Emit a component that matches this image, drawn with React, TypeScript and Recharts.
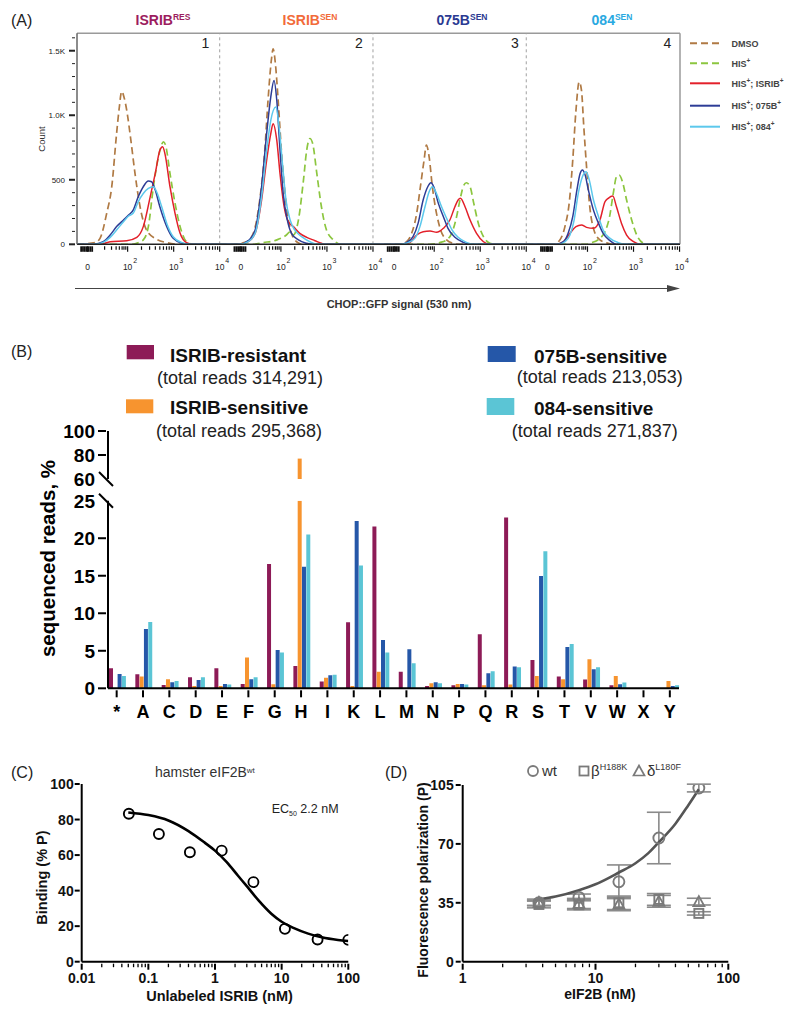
import React from 'react';
import {
  LineChart, Line, XAxis, YAxis, ReferenceLine,
  BarChart, Bar, ComposedChart, Scatter, ErrorBar,
} from 'recharts';

const FONT = '"Liberation Sans", Arial, Helvetica, sans-serif';

// ================= Panel A data (local x in display decades, y = count) =================
type Pt = [number, number];
const a1Dmso: Pt[] = [[0.9,0],[1.29,13],[1.40,46],[1.545,240],[1.655,446],[1.76,858],[1.82,1064],[1.87,1185],[1.92,1142],[1.98,1039],[2.07,807],[2.16,549],[2.27,291],[2.41,111],[2.63,39],[2.85,13],[3.14,0],[4,0]];
const a1His: Pt[] = [[0.9,0],[2.1,0],[2.27,20],[2.34,34],[2.45,137],[2.56,446],[2.67,678],[2.78,794],[2.83,760],[2.92,549],[3.03,317],[3.14,137],[3.28,20],[3.43,0],[4,0]];
const a1Isrib: Pt[] = [[0.9,0],[1.4,0],[1.62,20],[1.98,28],[2.20,54],[2.34,137],[2.49,368],[2.60,549],[2.70,729],[2.76,755],[2.81,703],[2.92,446],[3.03,240],[3.14,85],[3.28,13],[3.43,0],[4,0]];
const a1B075: Pt[] = [[0.9,0],[1.26,0],[1.47,20],[1.62,72],[1.76,137],[1.91,188],[2.02,227],[2.12,265],[2.23,368],[2.34,446],[2.45,490],[2.52,485],[2.60,420],[2.70,291],[2.85,137],[2.99,46],[3.18,8],[3.36,0],[4,0]];
const a1B084: Pt[] = [[0.9,0],[1.26,0],[1.47,15],[1.62,54],[1.76,111],[1.91,175],[2.02,219],[2.12,240],[2.23,330],[2.34,394],[2.45,433],[2.56,446],[2.63,407],[2.74,291],[2.85,162],[2.99,59],[3.18,13],[3.36,0],[4,0]];

const a2Dmso: Pt[] = [[0.67,0],[0.96,0],[1.25,20],[1.40,85],[1.54,343],[1.65,729],[1.72,1116],[1.80,1451],[1.83,1515],[1.88,1400],[1.94,1116],[2.01,729],[2.09,394],[2.16,188],[2.23,85],[2.34,20],[2.49,0],[4,0]];
const a2His: Pt[] = [[0.67,0],[1.40,0],[1.62,13],[1.91,34],[2.12,72],[2.20,98],[2.27,72],[2.38,188],[2.49,497],[2.56,729],[2.63,820],[2.69,781],[2.78,549],[2.88,291],[2.99,111],[3.14,34],[3.28,0],[4,0]];
const a2Isrib: Pt[] = [[0.67,0],[1.11,0],[1.29,20],[1.44,85],[1.58,343],[1.69,652],[1.78,858],[1.83,935],[1.91,807],[1.98,549],[2.07,291],[2.16,175],[2.27,137],[2.41,85],[2.56,54],[2.74,28],[2.88,8],[2.99,0],[4,0]];
const a2B075: Pt[] = [[0.67,0],[1.11,0],[1.29,28],[1.44,111],[1.58,446],[1.69,858],[1.78,1142],[1.85,1270],[1.91,1116],[1.98,729],[2.05,394],[2.14,188],[2.23,85],[2.38,34],[2.56,8],[2.70,0],[4,0]];
const a2B084: Pt[] = [[0.67,0],[1.11,0],[1.29,20],[1.44,85],[1.58,368],[1.69,729],[1.78,961],[1.89,1064],[1.96,910],[2.04,600],[2.11,343],[2.20,188],[2.30,111],[2.45,59],[2.63,20],[2.78,0],[4,0]];

const a3Dmso: Pt[] = [[0.67,0],[1.25,0],[1.40,20],[1.51,85],[1.62,240],[1.70,446],[1.78,652],[1.83,768],[1.89,678],[1.96,446],[2.05,240],[2.14,111],[2.27,34],[2.41,8],[2.56,0],[4,0]];
const a3His: Pt[] = [[0.67,0],[1.91,0],[2.12,13],[2.27,34],[2.38,85],[2.47,188],[2.56,343],[2.63,446],[2.70,477],[2.78,446],[2.86,317],[2.96,162],[3.07,59],[3.21,8],[3.32,0],[4,0]];
const a3Isrib: Pt[] = [[0.67,0],[1.33,0],[1.47,13],[1.62,72],[1.76,98],[1.91,103],[2.05,93],[2.20,124],[2.34,188],[2.45,291],[2.52,343],[2.57,356],[2.67,291],[2.78,188],[2.92,85],[3.07,20],[3.21,0],[4,0]];
const a3B075: Pt[] = [[0.67,0],[1.25,0],[1.40,13],[1.54,59],[1.65,162],[1.76,343],[1.86,446],[1.93,477],[1.99,446],[2.09,317],[2.20,214],[2.30,124],[2.45,54],[2.63,15],[2.81,0],[4,0]];
const a3B084: Pt[] = [[0.67,0],[1.25,0],[1.43,13],[1.58,46],[1.69,137],[1.80,291],[1.89,407],[1.96,446],[2.05,394],[2.16,291],[2.27,201],[2.38,116],[2.52,54],[2.70,15],[2.88,0],[4,0]];

const a4Dmso: Pt[] = [[0.67,0],[1.26,0],[1.40,34],[1.51,137],[1.61,343],[1.68,652],[1.75,1039],[1.82,1258],[1.87,1193],[1.92,910],[1.98,600],[2.05,291],[2.14,111],[2.27,34],[2.45,8],[2.56,0],[4,0]];
const a4His: Pt[] = [[0.67,0],[1.98,0],[2.05,8],[2.27,46],[2.38,98],[2.48,214],[2.56,394],[2.63,523],[2.69,536],[2.76,485],[2.85,343],[2.96,188],[3.07,72],[3.21,8],[3.29,0],[4,0]];
const a4Isrib: Pt[] = [[0.67,0],[1.33,0],[1.48,20],[1.62,85],[1.75,137],[1.87,150],[1.98,131],[2.13,124],[2.27,188],[2.38,330],[2.45,356],[2.55,374],[2.63,291],[2.74,162],[2.85,72],[3.00,20],[3.14,0],[4,0]];
const a4B075: Pt[] = [[0.67,0],[1.33,0],[1.48,20],[1.58,85],[1.68,214],[1.77,420],[1.84,549],[1.89,575],[1.95,536],[2.02,420],[2.13,265],[2.24,162],[2.34,85],[2.49,28],[2.63,0],[4,0]];
const a4B084: Pt[] = [[0.67,0],[1.37,0],[1.51,20],[1.62,72],[1.71,188],[1.80,394],[1.89,523],[1.97,562],[2.04,497],[2.13,343],[2.24,214],[2.34,111],[2.49,46],[2.67,13],[2.85,0],[4,0]];

const aPanelOffsets = [-0.9, 2.43, 5.76, 9.09];
const aXMax = 13.1;
const aYMax = 1635;
const aYTicks = [0,100,200,300,400,500,600,700,800,900,1000,1100,1200,1300,1400,1500,1600];
const aYMajorValues = [0, 500, 1000, 1500];
const aYMajorLabels = ['0', '500', '1.0K', '1.5K'];
const aMajorLocal = [1.13, 2, 3, 4];
const aMajorBase = ['0', '10', '10', '10'];
const aMajorSup = ['', '2', '3', '4'];
const aClusterLocal = [0.99, 1.03, 1.07, 1.11, 1.15, 1.19, 1.23];
const aMinorLocal = [1.5, 1.65, 1.75, 1.82, 1.88, 1.92, 1.96, 2.301, 2.477, 2.602, 2.699, 2.778, 2.845, 2.903, 2.954, 3.301, 3.477, 3.602, 3.699, 3.778, 3.845, 3.903, 3.954];
const aPanelNumbers = ['1', '2', '3', '4'];
const aPanelHeaders = [
  { base: 'ISRIB', sup: 'RES', color: '#9c1d5e' },
  { base: 'ISRIB', sup: 'SEN', color: '#f26b3a' },
  { base: '075B', sup: 'SEN', color: '#2b3a92' },
  { base: '084', sup: 'SEN', color: '#29a9e1' },
];
const aSeries = [
  { parts: [['DMSO', '']], color: '#b07a44', dash: '7 4' },
  { parts: [['HIS', ''], ['+', 's']], color: '#8cc63f', dash: '7 4' },
  { parts: [['HIS', ''], ['+', 's'], ['; ISRIB', ''], ['+', 's']], color: '#e3202a', dash: '' },
  { parts: [['HIS', ''], ['+', 's'], ['; 075B', ''], ['+', 's']], color: '#2d3c96', dash: '' },
  { parts: [['HIS', ''], ['+', 's'], ['; 084', ''], ['+', 's']], color: '#5cc8ec', dash: '' },
];
const aCurves: Pt[][][] = [
  [a1Dmso, a1His, a1Isrib, a1B075, a1B084],
  [a2Dmso, a2His, a2Isrib, a2B075, a2B084],
  [a3Dmso, a3His, a3Isrib, a3B075, a3B084],
  [a4Dmso, a4His, a4Isrib, a4B075, a4B084],
];

type TickDef = { x: number; kind: string; base?: string; sup?: string };
const aTickDefs: TickDef[] = aPanelOffsets
  .flatMap((off) => [
    ...aClusterLocal.map((v) => ({ x: +(v + off).toFixed(4), kind: 'cluster' })),
    ...aMinorLocal.map((v) => ({ x: +(v + off).toFixed(4), kind: 'minor' })),
    ...aMajorLocal.map((v, i) => ({ x: +(v + off).toFixed(4), kind: 'major', base: aMajorBase[i], sup: aMajorSup[i] })),
  ])
  .filter((d) => d.x >= 0 && d.x <= aXMax)
  .sort((a, b) => a.x - b.x);

// ================= Panel B data =================
const bCategories = ['*','A','C','D','E','F','G','H','I','K','L','M','N','P','Q','R','S','T','V','W','X','Y'];
const bResistant = [2.67,1.87,0.44,1.47,2.67,0.58,16.58,2.98,0.89,8.8,21.56,2.22,0.3,0.4,7.2,22.76,3.78,1.56,1.16,0.4,0,0];
const bSensitive = [0,1.56,1.2,0.3,0.3,4.09,0.53,77,1.42,0.3,2.22,0,0.67,0.58,0.4,0.49,1.64,1.2,3.87,1.64,0,0.98];
const b075 = [1.9,7.9,0.8,1.11,0.58,1.2,5.1,16.2,1.73,22.3,6.44,5.2,0.8,0.58,2.0,2.89,14.98,5.51,2.53,0.53,0,0.3];
const b084 = [1.64,8.84,0.98,1.47,0.49,1.47,4.76,20.5,1.82,16.36,4.76,3.33,0.67,0.49,2.27,2.8,18.27,5.91,2.8,0.76,0,0.4];
const bLowerTicks = [0, 5, 10, 15, 20, 25];
const bUpperTicks = [60, 80, 100];
const bSeries = [
  { key: 'res', values: bResistant, color: '#8d1b57', title: 'ISRIB-resistant', reads: '(total reads 314,291)' },
  { key: 'sen', values: bSensitive, color: '#f7942f', title: 'ISRIB-sensitive', reads: '(total reads 295,368)' },
  { key: 'b075', values: b075, color: '#2557a8', title: '075B-sensitive', reads: '(total reads 213,053)' },
  { key: 'b084', values: b084, color: '#5bc5d5', title: '084-sensitive', reads: '(total reads 271,837)' },
];
const bLowerRows = bCategories.map((cat, i) => {
  const row: any = { cat };
  bSeries.forEach((s) => { row[s.key] = Math.min(s.values[i], 25); });
  return row;
});
const bUpperRows = bCategories.map((cat, i) => {
  const row: any = { cat };
  bSeries.forEach((s) => { row[s.key] = s.values[i] > 60 ? s.values[i] : null; });
  return row;
});

// ================= Panel C data =================
const cConc = [0.051, 0.144, 0.42, 1.26, 3.77, 11.2, 34.6, 100];
const cBinding = [83.3, 71.9, 61.6, 62.5, 44.8, 18.5, 12.5, 12.3];
const cFitConc = [0.05,0.1,0.2,0.4,0.7,1,1.5,2.2,3,4.5,7,10,15,25,40,70,100];
const cFitBinding = [84,82.5,79.5,73.5,67,62.5,56,48.5,42.5,34.5,27,22.5,19,15.8,13.7,12.2,11.6];
const cMajorTicks = [0.01, 0.1, 1, 10, 100];
const cMajorLabels = ['0.01', '0.1', '1', '10', '100'];
const cYTicks = [0, 20, 40, 60, 80, 100];
const cMinorTicks = [0.01, 0.1, 1, 10].flatMap((d) => [2,3,4,5,6,7,8,9].map((n) => +(n * d).toPrecision(3)));

// ================= Panel D data =================
const dConc = [3.75, 7.5, 15, 30, 60];
const dWt = [35.0, 38.2, 47.5, 73.5, 103.2];
const dWtErr = [1.5, 2, 10, 15.3, 2.3];
const dBeta = [34.0, 33.8, 35.0, 37.0, 28.7];
const dBetaErr = [2, 3, 4, 3.5, 1];
const dDelta = [35.2, 34.6, 34.3, 35.9, 35.7];
const dDeltaErr = [2, 3, 4, 3.5, 2];
const dFitConc = [3.75,5,7.5,10,15,20,25,30,40,50,60];
const dFitP = [37,38.7,42.5,46,53,58.5,64.5,71,82,93,102.5];
const dMajorTicks = [1, 10, 100];
const dMajorLabels = ['1', '10', '100'];
const dYTicks = [0, 35, 70, 105];
const dMinorTicks = [1, 10].flatMap((d) => [2,3,4,5,6,7,8,9].map((n) => n * d));

// ================= tick renderers =================
const renderATick = (props: any) => {
  const { x, y, payload } = props;
  const def = aTickDefs.find((d) => Math.abs(d.x - payload.value) < 1e-6);
  if (!def) return <g />;
  const len = def.kind === 'minor' ? 3.5 : 5.5;
  return (
    <g>
      <line x1={x} x2={x} y1={y} y2={y + len} stroke="#111" strokeWidth={def.kind === 'cluster' ? 1.8 : 1.2} />
      {def.kind === 'major' && (
        <text x={x} y={y + 24} textAnchor="middle" fontSize={8.5} fill="#222" fontFamily={FONT}>{def.base}</text>
      )}
      {def.kind === 'major' && def.sup && (
        <text x={x + 5.5} y={y + 17} fontSize={7} fill="#222" fontFamily={FONT}>{def.sup}</text>
      )}
    </g>
  );
};

const renderAYTick = (props: any) => {
  const { x, y, payload } = props;
  const i = aYMajorValues.indexOf(payload.value);
  const major = i >= 0;
  return (
    <g>
      <line x1={x - (major ? 6 : 3)} x2={x} y1={y} y2={y} stroke="#222" strokeWidth={major ? 2 : 1} />
      {major && (
        <text x={x - 10} y={y + 3} textAnchor="end" fontSize={8} fill="#222" fontFamily={FONT}>{aYMajorLabels[i]}</text>
      )}
    </g>
  );
};

const makeBYTick = (slashAt: number) => (props: any) => {
  const { x, y, payload } = props;
  const v = payload.value;
  return (
    <g>
      {v === slashAt ? (
        <line x1={x - 7} y1={y - 7} x2={x + 7} y2={y + 7} stroke="#000" strokeWidth={2} />
      ) : (
        <line x1={x - 8} y1={y} x2={x} y2={y} stroke="#000" strokeWidth={2} />
      )}
      <text x={x - 11} y={y + 7} textAnchor="end" fontSize={19} fontWeight="bold" fill="#000" fontFamily={FONT}>{v}</text>
    </g>
  );
};

const renderBXTick = (props: any) => {
  const { x, y, payload } = props;
  return (
    <g>
      <line x1={x} x2={x} y1={y} y2={y + 7} stroke="#000" strokeWidth={2} />
      <text x={x} y={y + 27.5} textAnchor="middle" fontSize={18} fontWeight="bold" fill="#000" fontFamily={FONT}>{payload.value}</text>
    </g>
  );
};

const makeLogXTick = (majors: number[], labels: string[]) => (props: any) => {
  const { x, y, payload } = props;
  const v = payload.value;
  const i = majors.findIndex((t) => Math.abs(t - v) / t < 1e-6);
  const major = i >= 0;
  return (
    <g>
      <line x1={x} x2={x} y1={y} y2={y + (major ? 6 : 3.5)} stroke="#000" strokeWidth={major ? 2 : 1.3} />
      {major && (
        <text x={x} y={y + 19} textAnchor="middle" fontSize={14} fontWeight="bold" fill="#111" fontFamily={FONT}>{labels[i]}</text>
      )}
    </g>
  );
};

const makeLinYTick = (labelGap: number) => (props: any) => {
  const { x, y, payload } = props;
  return (
    <g>
      <line x1={x - 5} x2={x} y1={y} y2={y} stroke="#000" strokeWidth={2} />
      <text x={x - labelGap} y={y + 5} textAnchor="end" fontSize={14} fontWeight="bold" fill="#111" fontFamily={FONT}>{payload.value}</text>
    </g>
  );
};

const openCircle = (color: string, r: number) => (p: any) => (
  <circle cx={p.cx} cy={p.cy} r={r} fill="none" stroke={color} strokeWidth={1.9} />
);
const openSquare = (color: string) => (p: any) => (
  <rect x={p.cx - 4.5} y={p.cy - 4.5} width={9} height={9} fill="none" stroke={color} strokeWidth={1.9} />
);
const openTriangle = (color: string) => (p: any) => (
  <path d={`M${p.cx},${p.cy - 5.5} L${p.cx - 5.5},${p.cy + 4.5} L${p.cx + 5.5},${p.cy + 4.5} Z`} fill="none" stroke={color} strokeWidth={1.8} />
);

const abs = (top: number, left: number): React.CSSProperties => ({ position: 'absolute', top, left });

export default function App() {
  const cPoints = cConc.map((x, i) => ({ x, y: cBinding[i] }));
  const cFit = cFitConc.map((x, i) => ({ x, y: cFitBinding[i] }));
  const dWtPts = dConc.map((x, i) => ({ x, y: dWt[i], err: dWtErr[i] }));
  const dBetaPts = dConc.map((x, i) => ({ x, y: dBeta[i], err: dBetaErr[i] }));
  const dDeltaPts = dConc.map((x, i) => ({ x, y: dDelta[i], err: dDeltaErr[i] }));
  const dFit = dFitConc.map((x, i) => ({ x, y: dFitP[i] }));
  const gray = '#7a7a7a';

  return (
    <div style={{ position: 'absolute', left: 0, top: 0, width: 800, height: 1017, background: '#fff', fontFamily: FONT }}>
      {/* ---------------- Panel A ---------------- */}
      <div style={abs(0, 0)}>
        <LineChart width={800} height={300} margin={{ top: 33.3, right: 120, bottom: 15.7, left: 40 }}>
          <XAxis type="number" dataKey="x" domain={[0, aXMax]} ticks={aTickDefs.map((d) => d.x)} interval={0}
            tickSize={0} tickLine={false} tick={renderATick} axisLine={{ stroke: '#222', strokeWidth: 1.5 }} height={40} allowDataOverflow />
          <YAxis type="number" domain={[0, aYMax]} ticks={aYTicks} interval={0} tickSize={0} tickLine={false}
            tick={renderAYTick} axisLine={{ stroke: '#666', strokeWidth: 1.5 }} width={37} allowDataOverflow />
          <ReferenceLine y={aYMax} stroke="#9a9a9a" strokeWidth={1.5} />
          <ReferenceLine x={aXMax} stroke="#9a9a9a" strokeWidth={1.5} />
          {aPanelOffsets.slice(0, 3).map((off, i) => (
            <ReferenceLine key={'sep' + i} x={4 + off} stroke="#a0a0a0" strokeWidth={1} strokeDasharray="3 3" />
          ))}
          {aCurves.flatMap((panel, p) =>
            panel.map((pts, s) => (
              <Line key={`a-${p}-${s}`} data={pts.map(([v, c]) => ({ x: v + aPanelOffsets[p], y: c }))}
                dataKey="y" type="monotone" stroke={aSeries[s].color} strokeWidth={s < 2 ? 1.7 : 1.5}
                strokeDasharray={aSeries[s].dash || undefined} dot={false} activeDot={false}
                isAnimationActive={false} legendType="none" />
            ))
          )}
        </LineChart>
      </div>

      {/* ---------------- Panel B ---------------- */}
      <div style={abs(420, 0)}>
        <BarChart width={800} height={80} data={bUpperRows} margin={{ top: 11, right: 121, bottom: 21, left: 58 }}
          barCategoryGap={5.5} barGap={0.3}>
          <XAxis dataKey="cat" hide padding={{ left: -4.5, right: -4 }} />
          <YAxis type="number" domain={[60, 100]} ticks={bUpperTicks} interval={0} width={50} tickSize={0} tickLine={false}
            tick={makeBYTick(60)} axisLine={{ stroke: '#000', strokeWidth: 2 }} allowDataOverflow />
          {bSeries.map((s) => (
            <Bar key={s.key} dataKey={s.key} fill={s.color} isAnimationActive={false} />
          ))}
        </BarChart>
      </div>
      <div style={abs(480, 0)}>
        <BarChart width={800} height={250} data={bLowerRows} margin={{ top: 20.7, right: 121, bottom: 11.7, left: 58 }}
          barCategoryGap={5.5} barGap={0.3}>
          <XAxis dataKey="cat" height={30} padding={{ left: -4.5, right: -4 }} interval={0} tickSize={0} tickLine={false}
            tick={renderBXTick} axisLine={{ stroke: '#000', strokeWidth: 2 }} />
          <YAxis type="number" domain={[0, 25]} ticks={bLowerTicks} interval={0} width={50} tickSize={0} tickLine={false}
            tick={makeBYTick(25)} axisLine={{ stroke: '#000', strokeWidth: 2 }} allowDataOverflow />
          {bSeries.map((s) => (
            <Bar key={s.key} dataKey={s.key} fill={s.color} isAnimationActive={false} />
          ))}
        </BarChart>
      </div>

      {/* ---------------- Panel C ---------------- */}
      <div style={abs(740, 0)}>
        <ComposedChart width={390} height={280} margin={{ top: 44, right: 41.7, bottom: 18.3, left: 41.7 }}>
          <XAxis type="number" dataKey="x" scale="log" domain={[0.01, 100]} ticks={[...cMajorTicks, ...cMinorTicks].sort((a, b) => a - b)}
            interval={0} tickSize={0} tickLine={false} tick={makeLogXTick(cMajorTicks, cMajorLabels)}
            axisLine={{ stroke: '#000', strokeWidth: 2 }} height={40} allowDataOverflow />
          <YAxis type="number" dataKey="y" domain={[0, 100]} ticks={cYTicks} interval={0} width={40} tickSize={0} tickLine={false}
            tick={makeLinYTick(6)} axisLine={{ stroke: '#000', strokeWidth: 2 }} allowDataOverflow />
          <Line data={cFit} dataKey="y" type="monotone" stroke="#000" strokeWidth={2.6} dot={false} activeDot={false} isAnimationActive={false} />
          <Scatter data={cPoints} dataKey="y" shape={openCircle('#000', 5)} isAnimationActive={false} />
        </ComposedChart>
      </div>

      {/* ---------------- Panel D ---------------- */}
      <div style={abs(740, 390)}>
        <ComposedChart width={410} height={280} margin={{ top: 45, right: 71.7, bottom: 18.3, left: 32.7 }}>
          <XAxis type="number" dataKey="x" scale="log" domain={[1, 100]} ticks={[...dMajorTicks, ...dMinorTicks].sort((a, b) => a - b)}
            interval={0} tickSize={0} tickLine={false} tick={makeLogXTick(dMajorTicks, dMajorLabels)}
            axisLine={{ stroke: '#000', strokeWidth: 2 }} height={40} allowDataOverflow />
          <YAxis type="number" dataKey="y" domain={[0, 105]} ticks={dYTicks} interval={0} width={40} tickSize={0} tickLine={false}
            tick={makeLinYTick(7)} axisLine={{ stroke: '#000', strokeWidth: 2 }} allowDataOverflow />
          <Scatter data={dBetaPts} dataKey="y" shape={openSquare(gray)} isAnimationActive={false}>
            <ErrorBar dataKey="err" direction="y" width={12} stroke="#8a8a8a" strokeWidth={1.6} />
          </Scatter>
          <Scatter data={dDeltaPts} dataKey="y" shape={openTriangle(gray)} isAnimationActive={false}>
            <ErrorBar dataKey="err" direction="y" width={12} stroke="#8a8a8a" strokeWidth={1.6} />
          </Scatter>
          <Scatter data={dWtPts} dataKey="y" shape={openCircle(gray, 5.5)} isAnimationActive={false}>
            <ErrorBar dataKey="err" direction="y" width={12} stroke="#8a8a8a" strokeWidth={1.6} />
          </Scatter>
          <Line data={dFit} dataKey="y" type="monotone" stroke="#555" strokeWidth={2.6} dot={false} activeDot={false} isAnimationActive={false} />
        </ComposedChart>
      </div>

      {/* ---------------- Annotations ---------------- */}
      <svg width={800} height={1017} style={{ position: 'absolute', left: 0, top: 0, pointerEvents: 'none' }} fontFamily={FONT}>
        {/* Panel A */}
        <text x={11} y={26} fontSize={16} fill="#222">(A)</text>
        {aPanelHeaders.map((h, i) => (
          <text key={'h' + i} x={[163, 310, 462, 612][i]} y={25} textAnchor="middle" fontWeight="bold" fill={h.color}>
            <tspan fontSize={14}>{h.base}</tspan>
            <tspan fontSize={8.5} dy={-5.5}>{h.sup}</tspan>
          </text>
        ))}
        {aPanelNumbers.map((n, i) => (
          <text key={'n' + i} x={[205.5, 359, 515, 667.3][i]} y={48} textAnchor="middle" fontSize={14} fill="#222">{n}</text>
        ))}
        <text x={0} y={0} transform="translate(41,139) rotate(-90)" textAnchor="middle" dominantBaseline="central" fontSize={9.5} fill="#333">Count</text>
        {aSeries.map((s, i) => {
          const y = [43.3, 63.3, 83.3, 105.7, 126.7][i];
          return (
            <g key={'lg' + i}>
              <line x1={690} x2={720} y1={y} y2={y} stroke={s.color} strokeWidth={2} strokeDasharray={s.dash || undefined} />
              <text x={731.5} y={y + 3.3} fontSize={9} fontWeight="bold" fill="#444">
                {s.parts.map((pt, j) =>
                  pt[1] === 's' ? (
                    <tspan key={j} fontSize={6.5} dy={-4}>{pt[0]}</tspan>
                  ) : (
                    <tspan key={j} fontSize={9} dy={j > 0 ? 4 : 0}>{pt[0]}</tspan>
                  )
                )}
              </text>
            </g>
          );
        })}
        <line x1={75} x2={670} y1={288.5} y2={288.5} stroke="#444" strokeWidth={1.2} />
        <polygon points="667,285 680,288.5 667,292" fill="#444" />
        <text x={399} y={308} textAnchor="middle" fontSize={11} fontWeight="bold" fill="#333">CHOP::GFP signal (530 nm)</text>

        {/* Panel B */}
        <text x={11} y={356.5} fontSize={16} fill="#222">(B)</text>
        {bSeries.map((s, i) => {
          const cfg = [
            { rx: 126.7, ry: 345, rw: 27.3, rh: 14.3, tx: 170, ty: 362, sx: 157, sy: 384 },
            { rx: 126, ry: 399.3, rw: 27.3, rh: 14, tx: 170, ty: 414, sx: 156, sy: 437 },
            { rx: 487.7, ry: 346, rw: 28, rh: 16, tx: 534, ty: 363, sx: 516.7, sy: 383 },
            { rx: 486.7, ry: 398, rw: 27.6, rh: 17, tx: 534, ty: 415, sx: 511.7, sy: 436.5 },
          ][i];
          return (
            <g key={'bl' + i}>
              <rect x={cfg.rx} y={cfg.ry} width={cfg.rw} height={cfg.rh} fill={s.color} />
              <text x={cfg.tx} y={cfg.ty} fontSize={19} fontWeight="bold" fill="#111">{s.title}</text>
              <text x={cfg.sx} y={cfg.sy} fontSize={18} fill="#222">{s.reads}</text>
            </g>
          );
        })}
        <text x={0} y={0} transform="translate(47,558.5) rotate(-90)" textAnchor="middle" dominantBaseline="central" fontSize={20.5} fontWeight="bold" fill="#000">sequenced reads, %</text>

        {/* Panel C */}
        <text x={11} y={777.5} fontSize={16} fill="#222">(C)</text>
        <text x={155} y={777} fontSize={14} fill="#333">
          <tspan>hamster eIF2B</tspan>
          <tspan fontSize={8} dy={-4}>wt</tspan>
        </text>
        <text x={271.7} y={813} fontSize={12.5} fill="#222">
          <tspan>EC</tspan>
          <tspan fontSize={7} dy={2.5}>50</tspan>
          <tspan dy={-2.5}> 2.2 nM</tspan>
        </text>
        <text x={0} y={0} transform="translate(41.7,877.5) rotate(-90)" textAnchor="middle" dominantBaseline="central" fontSize={14.5} fontWeight="bold" fill="#111">Binding (% P)</text>
        <text x={219.5} y={1000.5} textAnchor="middle" fontSize={14.5} fontWeight="bold" fill="#111">Unlabeled ISRIB (nM)</text>

        {/* Panel D */}
        <text x={385} y={777.5} fontSize={16} fill="#222">(D)</text>
        <circle cx={533} cy={771} r={5} fill="none" stroke={gray} strokeWidth={1.8} />
        <text x={542} y={776} fontSize={15} fill="#333">wt</text>
        <rect x={579.5} y={766.5} width={9} height={9} fill="none" stroke={gray} strokeWidth={1.8} />
        <text x={591} y={776} fontSize={15} fill="#333">
          <tspan>β</tspan>
          <tspan fontSize={9} dy={-6}>H188K</tspan>
        </text>
        <path d="M639,765.5 L633.5,775.5 L644.5,775.5 Z" fill="none" stroke={gray} strokeWidth={1.7} />
        <text x={647} y={776} fontSize={15} fill="#333">
          <tspan>δ</tspan>
          <tspan fontSize={9} dy={-6}>L180F</tspan>
        </text>
        <text x={0} y={0} transform="translate(423,880) rotate(-90)" textAnchor="middle" dominantBaseline="central" fontSize={14} fontWeight="bold" fill="#111">Fluorescence polarization (P)</text>
        <text x={600} y={998.5} textAnchor="middle" fontSize={14} fontWeight="bold" fill="#111">eIF2B (nM)</text>
      </svg>
    </div>
  );
}
